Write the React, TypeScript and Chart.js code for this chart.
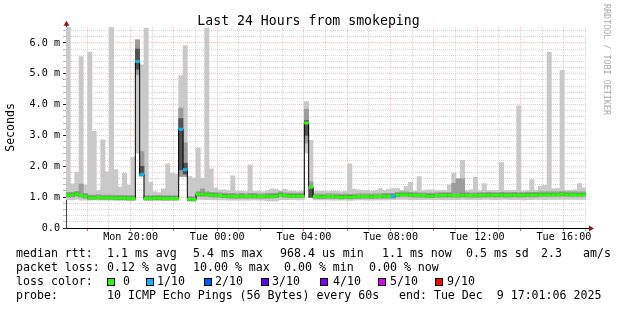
import React, { useEffect, useRef } from 'react';
import { Chart, registerables } from 'chart.js';

Chart.register(...registerables);

// ---- time axis (hours since Mon 00:00) ----
const startHour = 17 + 1 / 60 + 6 / 3600; // Mon 17:01:06
const stepHours = 0.2; // 12 minute buckets
const xGridHours = [18, 19, 20, 21, 22, 23, 24, 25, 26, 27, 28, 29, 30, 31, 32, 33, 34, 35, 36, 37, 38, 39, 40, 41];
const xLabelHours = [20, 24, 28, 32, 36, 40];
const xLabelTexts = ['Mon 20:00', 'Tue 00:00', 'Tue 04:00', 'Tue 08:00', 'Tue 12:00', 'Tue 16:00'];
const yGridValues = [0, 0.2, 0.4, 0.6, 0.8, 1, 1.2, 1.4, 1.6, 1.8, 2, 2.2, 2.4, 2.6, 2.8, 3, 3.2, 3.4, 3.6, 3.8, 4, 4.2, 4.4, 4.6, 4.8, 5, 5.2, 5.4, 5.6, 5.8, 6, 6.2, 6.4];

// ---- smoke (ms) ----
const smokeMax = [
  6.51, 1.43, 1.81, 5.56, 1.40, 5.69, 3.13, 1.22, 2.86, 1.82, 6.50, 1.89, 1.33, 1.77, 1.39, 2.30, 6.10, 5.29, 6.48, 1.48,
  1.18, 1.15, 1.27, 2.08, 1.77, 1.75, 4.94, 5.91, 1.67, 1.62, 2.59, 1.62, 6.48, 1.92, 1.30, 1.24, 1.24, 1.22, 1.69, 1.20,
  1.20, 1.18, 2.05, 1.18, 1.20, 1.17, 1.22, 1.26, 1.26, 1.20, 1.25, 1.20, 1.20, 1.18, 1.20, 4.10, 2.84, 1.20, 1.19, 1.20,
  1.18, 1.20, 1.19, 1.17, 1.20, 2.08, 1.26, 1.24, 1.22, 1.22, 1.20, 1.22, 1.28, 1.22, 1.26, 1.28, 1.28, 1.22, 1.35, 1.48,
  1.20, 1.67, 1.22, 1.24, 1.24, 1.22, 1.22, 1.22, 1.40, 1.77, 1.59, 2.19, 1.22, 1.24, 1.64, 1.22, 1.44, 1.22, 1.22, 1.22,
  2.12, 1.22, 1.22, 1.22, 3.96, 1.20, 1.22, 1.57, 1.22, 1.35, 1.38, 5.69, 1.27, 1.28, 5.11, 1.22, 1.22, 1.24, 1.44, 1.30,
];
const smokeMin = [
  0.92, 0.91, 0.93, 0.90, 0.90, 0.90, 0.91, 0.90, 0.90, 0.90, 0.90, 0.90, 0.90, 0.90, 0.89, 0.89, 2.43, 1.68, 0.89, 0.90,
  0.90, 0.90, 0.89, 0.89, 0.90, 0.90, 1.67, 1.67, 0.87, 0.87, 0.93, 0.93, 0.92, 0.92, 0.91, 0.91, 0.91, 0.90, 0.90, 0.90,
  0.90, 0.90, 0.90, 0.91, 0.90, 0.90, 0.88, 0.88, 0.88, 0.92, 0.92, 0.92, 0.92, 0.91, 0.91, 2.43, 0.98, 0.91, 0.91, 0.91,
  0.91, 0.90, 0.90, 0.90, 0.90, 0.89, 0.90, 0.91, 0.91, 0.90, 0.90, 0.91, 0.91, 0.91, 0.91, 0.92, 0.93, 0.93, 0.93, 0.92,
  0.92, 0.92, 0.92, 0.92, 0.92, 0.92, 0.92, 0.91, 0.92, 0.92, 0.92, 0.93, 0.92, 0.92, 0.92, 0.92, 0.93, 0.93, 0.92, 0.92,
  0.93, 0.93, 0.92, 0.92, 0.92, 0.91, 0.92, 0.92, 0.93, 0.93, 0.92, 0.93, 0.93, 0.93, 0.93, 0.93, 0.93, 0.93, 0.93, 0.93,
];
const midHigh = [
  1.16, 1.16, 1.19, 1.42, 1.12, 1.07, 1.07, 1.08, 1.07, 1.07, 1.07, 1.06, 1.06, 1.06, 1.05, 1.05, 6.10, 2.48, 1.05, 1.05,
  1.06, 1.06, 1.05, 1.05, 1.05, 1.05, 3.89, 2.76, 1.02, 1.02, 1.18, 1.27, 1.17, 1.16, 1.15, 1.14, 1.13, 1.12, 1.12, 1.11,
  1.12, 1.11, 1.12, 1.12, 1.11, 1.11, 1.12, 1.12, 1.13, 1.17, 1.14, 1.13, 1.13, 1.13, 1.13, 3.85, 1.50, 1.11, 1.10, 1.10,
  1.11, 1.11, 1.10, 1.09, 1.10, 1.09, 1.10, 1.11, 1.11, 1.11, 1.10, 1.11, 1.11, 1.12, 1.12, 1.12, 1.16, 1.17, 1.17, 1.16,
  1.15, 1.14, 1.14, 1.13, 1.13, 1.14, 1.15, 1.15, 1.15, 1.45, 1.59, 1.59, 1.15, 1.14, 1.14, 1.15, 1.15, 1.16, 1.15, 1.15,
  1.16, 1.15, 1.15, 1.16, 1.15, 1.15, 1.16, 1.16, 1.16, 1.17, 1.17, 1.17, 1.17, 1.17, 1.18, 1.17, 1.17, 1.17, 1.17, 1.17,
];
const midLow = [
  1.01, 1.01, 1.04, 0.99, 0.97, 0.92, 0.92, 0.93, 0.92, 0.92, 0.92, 0.91, 0.91, 0.91, 0.90, 0.90, 4.97, 1.68, 0.90, 0.90,
  0.91, 0.91, 0.90, 0.90, 0.90, 0.90, 1.67, 1.67, 0.88, 0.88, 1.03, 1.03, 1.02, 1.01, 1.00, 0.99, 0.98, 0.97, 0.97, 0.96,
  0.97, 0.96, 0.97, 0.97, 0.96, 0.96, 0.97, 0.97, 0.98, 1.02, 0.99, 0.98, 0.98, 0.98, 0.98, 2.75, 0.98, 0.96, 0.95, 0.95,
  0.96, 0.96, 0.95, 0.94, 0.95, 0.94, 0.95, 0.96, 0.96, 0.96, 0.95, 0.96, 0.96, 0.97, 0.97, 0.97, 1.01, 1.02, 1.02, 1.01,
  1.00, 0.99, 0.99, 0.98, 0.98, 0.99, 1.00, 1.00, 1.00, 0.99, 0.99, 1.00, 1.00, 0.99, 0.99, 1.00, 1.00, 1.01, 1.00, 1.00,
  1.01, 1.00, 1.00, 1.01, 1.00, 1.00, 1.01, 1.01, 1.01, 1.02, 1.02, 1.02, 1.02, 1.02, 1.03, 1.02, 1.02, 1.02, 1.02, 1.02,
];
const coreHigh = [
  1.11, 1.11, 1.14, 1.09, 1.07, 1.02, 1.02, 1.03, 1.02, 1.02, 1.02, 1.01, 1.01, 1.01, 1.00, 1.00, 5.80, 2.00, 1.00, 1.00,
  1.01, 1.01, 1.00, 1.00, 1.00, 1.00, 3.55, 2.10, 0.97, 0.97, 1.13, 1.13, 1.12, 1.11, 1.10, 1.09, 1.08, 1.07, 1.07, 1.06,
  1.07, 1.06, 1.07, 1.07, 1.06, 1.06, 1.07, 1.07, 1.08, 1.12, 1.09, 1.08, 1.08, 1.08, 1.08, 3.48, 1.30, 1.06, 1.05, 1.05,
  1.06, 1.06, 1.05, 1.04, 1.05, 1.04, 1.05, 1.06, 1.06, 1.06, 1.05, 1.06, 1.06, 1.07, 1.07, 1.07, 1.11, 1.12, 1.12, 1.11,
  1.10, 1.09, 1.09, 1.08, 1.08, 1.09, 1.10, 1.10, 1.10, 1.09, 1.09, 1.10, 1.10, 1.09, 1.09, 1.10, 1.10, 1.11, 1.10, 1.10,
  1.11, 1.10, 1.10, 1.11, 1.10, 1.10, 1.11, 1.11, 1.11, 1.12, 1.12, 1.12, 1.12, 1.12, 1.13, 1.12, 1.12, 1.12, 1.12, 1.12,
];
const coreLow = [
  1.04, 1.04, 1.07, 1.02, 1.00, 0.95, 0.95, 0.96, 0.95, 0.95, 0.95, 0.94, 0.94, 0.94, 0.93, 0.93, 5.15, 1.70, 0.93, 0.93,
  0.94, 0.94, 0.93, 0.93, 0.93, 0.93, 1.89, 1.75, 0.90, 0.90, 1.06, 1.06, 1.05, 1.04, 1.03, 1.02, 1.01, 1.00, 1.00, 0.99,
  1.00, 0.99, 1.00, 1.00, 0.99, 0.99, 1.00, 1.00, 1.01, 1.05, 1.02, 1.01, 1.01, 1.01, 1.01, 3.00, 1.00, 0.99, 0.98, 0.98,
  0.99, 0.99, 0.98, 0.97, 0.98, 0.97, 0.98, 0.99, 0.99, 0.99, 0.98, 0.99, 0.99, 1.00, 1.00, 1.00, 1.04, 1.05, 1.05, 1.04,
  1.03, 1.02, 1.02, 1.01, 1.01, 1.02, 1.03, 1.03, 1.03, 1.02, 1.02, 1.03, 1.03, 1.02, 1.02, 1.03, 1.03, 1.04, 1.03, 1.03,
  1.04, 1.03, 1.03, 1.04, 1.03, 1.03, 1.04, 1.04, 1.04, 1.05, 1.05, 1.05, 1.05, 1.05, 1.06, 1.05, 1.05, 1.05, 1.05, 1.05,
];
const medianRtt = [
  1.07, 1.07, 1.10, 1.05, 1.03, 0.98, 0.98, 0.99, 0.98, 0.98, 0.98, 0.97, 0.97, 0.97, 0.96, 0.96, 5.40, 1.73, 0.96, 0.96,
  0.97, 0.97, 0.96, 0.96, 0.96, 0.96, 3.20, 1.89, 0.93, 0.93, 1.09, 1.09, 1.08, 1.07, 1.06, 1.05, 1.04, 1.03, 1.03, 1.02,
  1.03, 1.02, 1.03, 1.03, 1.02, 1.02, 1.03, 1.03, 1.04, 1.08, 1.05, 1.04, 1.04, 1.04, 1.04, 3.40, 1.32, 1.02, 1.01, 1.01,
  1.02, 1.02, 1.01, 1.00, 1.01, 1.00, 1.01, 1.02, 1.02, 1.02, 1.01, 1.02, 1.02, 1.03, 1.03, 1.03, 1.07, 1.08, 1.08, 1.07,
  1.06, 1.05, 1.05, 1.04, 1.04, 1.05, 1.06, 1.06, 1.06, 1.05, 1.05, 1.06, 1.06, 1.05, 1.05, 1.06, 1.06, 1.07, 1.06, 1.06,
  1.07, 1.06, 1.06, 1.07, 1.06, 1.06, 1.07, 1.07, 1.07, 1.08, 1.08, 1.08, 1.08, 1.08, 1.09, 1.08, 1.08, 1.08, 1.08, 1.08,
];
const lossTenths = [
  0, 0, 0, 0, 0, 0, 0, 0, 0, 0, 0, 0, 0, 0, 0, 0, 1, 1, 0, 0,
  0, 0, 0, 0, 0, 0, 1, 1, 0, 0, 0, 0, 0, 0, 0, 0, 0, 0, 0, 0,
  0, 0, 0, 0, 0, 0, 0, 0, 0, 0, 0, 0, 0, 0, 0, 0, 0, 0, 0, 0,
  0, 0, 0, 0, 0, 0, 0, 0, 0, 0, 0, 0, 0, 0, 0, 1, 0, 0, 0, 0,
  0, 0, 0, 0, 0, 0, 0, 0, 0, 0, 0, 0, 0, 0, 0, 0, 0, 0, 0, 0,
  0, 0, 0, 0, 0, 0, 0, 0, 0, 0, 0, 0, 0, 0, 0, 0, 0, 0, 0, 0,
];

// ---- legend texts ----
const titleText = 'Last 24 Hours from smokeping';
const unitText = 'Seconds';
const watermarkText = 'RRDTOOL / TOBI OETIKER';
const rttLabel = 'median rtt:';
const rttStats = ['1.1 ms avg', '5.4 ms max', '968.4 us min', '1.1 ms now', '0.5 ms sd', '2.3', 'am/s'];
const lossLabel = 'packet loss:';
const lossStats = ['0.12 % avg', '10.00 % max', '0.00 % min', '0.00 % now'];
const colorLabel = 'loss color:';
const lossLegendTenths = [0, 1, 2, 3, 4, 5, 9];
const lossLegendLabels = ['0', '1/10', '2/10', '3/10', '4/10', '5/10', '9/10'];
const lossLegendColors = ['#26ff00', '#00b8ff', '#0059ff', '#5e00ff', '#7e00ff', '#dd00ff', '#ff0000'];
const probeLabel = 'probe:';
const probeText = '10 ICMP Echo Pings (56 Bytes) every 60s';
const endText = 'end: Tue Dec  9 17:01:06 2025';

const MONO = '"DejaVu Sans Mono", monospace';

function colorForLoss(t: number) {
  const i = lossLegendTenths.indexOf(t);
  return lossLegendColors[i < 0 ? 0 : i];
}

const decorPlugin = {
  id: 'rrdDecor',
  afterDraw(chart: any) {
    const { ctx, chartArea: a } = chart;
    ctx.save();
    const lx = Math.round(a.left) + 0.5;
    const by = Math.round(a.bottom) + 0.5;
    ctx.lineWidth = 1;
    ctx.strokeStyle = '#000';
    ctx.beginPath();
    ctx.moveTo(a.right, by);
    ctx.lineTo(a.right + 4, by);
    ctx.stroke();
    ctx.strokeStyle = '#444';
    ctx.beginPath();
    ctx.moveTo(lx, a.top);
    ctx.lineTo(lx, a.top - 2);
    ctx.stroke();
    ctx.fillStyle = '#8b1a1a';
    ctx.beginPath();
    ctx.moveTo(lx, a.top - 6);
    ctx.lineTo(lx - 3, a.top - 1);
    ctx.lineTo(lx + 3, a.top - 1);
    ctx.closePath();
    ctx.fill();
    ctx.beginPath();
    ctx.moveTo(a.right + 8, by);
    ctx.lineTo(a.right + 3, by - 3);
    ctx.lineTo(a.right + 3, by + 3);
    ctx.closePath();
    ctx.fill();

    // watermark
    ctx.save();
    ctx.translate(606, 4);
    ctx.rotate(Math.PI / 2);
    ctx.font = `8.4px ${MONO}`;
    ctx.fillStyle = '#a8a8a8';
    ctx.textAlign = 'left';
    ctx.textBaseline = 'middle';
    ctx.fillText(watermarkText, 0, 0);
    ctx.restore();

    // legend
    ctx.font = `11.6px ${MONO}`;
    ctx.fillStyle = '#000';
    ctx.textAlign = 'left';
    ctx.textBaseline = 'middle';
    const rows = [254, 268, 282, 296];
    ctx.fillText(rttLabel, 16, rows[0]);
    const rttX = [107, 193, 280, 382, 466, 541, 583];
    rttStats.forEach((s, i) => ctx.fillText(s, rttX[i], rows[0]));
    ctx.fillText(lossLabel, 16, rows[1]);
    const lossX = [107, 193, 284, 369];
    lossStats.forEach((s, i) => ctx.fillText(s, lossX[i], rows[1]));
    ctx.fillText(colorLabel, 16, rows[2]);
    const boxX = [107, 146, 204, 261, 320, 378, 435];
    const labX = [123, 157, 215, 272, 333, 390, 447];
    lossLegendLabels.forEach((s, i) => {
      const top = rows[2] - 4;
      ctx.fillStyle = lossLegendColors[i];
      ctx.fillRect(boxX[i], top, 8, 8);
      ctx.strokeStyle = '#000';
      ctx.strokeRect(boxX[i] + 0.5, top + 0.5, 7, 7);
      ctx.fillStyle = '#000';
      ctx.fillText(s, labX[i], rows[2]);
    });
    ctx.fillText(probeLabel, 16, rows[3]);
    ctx.fillText(probeText, 107, rows[3]);
    ctx.fillText(endText, 399, rows[3]);
    ctx.restore();
  },
};

export default function App() {
  const ref = useRef<HTMLCanvasElement>(null);
  useEffect(() => {
    const xs = medianRtt.map((_, i) => startHour + stepHours * (i + 0.5));
    const band = (low: number[], high: number[]) => low.map((l, i) => ({ x: xs[i], y: [l, high[i]] }));
    const medPts = medianRtt.map((m, i) => ({ x: xs[i], y: m }));
    const barCommon = { type: 'bar' as const, grouped: false, barPercentage: 1, categoryPercentage: 1, borderWidth: 0 };
    const red = 'rgba(240,110,110,0.42)';
    const grey = 'rgba(160,160,160,0.42)';
    const chart = new Chart(ref.current as HTMLCanvasElement, {
      type: 'bar',
      data: {
        datasets: [
          {
            type: 'line',
            label: 'median (loss color)',
            data: medPts,
            showLine: false,
            pointStyle: 'line',
            pointRadius: 2.3,
            pointBorderWidth: 3,
            pointBorderColor: lossTenths.map(colorForLoss),
            order: 0,
          } as any,
          {
            type: 'line',
            label: 'median',
            data: medPts,
            stepped: 'middle',
            borderColor: '#000',
            borderWidth: 1,
            pointRadius: 0,
            fill: false,
            order: 1,
          } as any,
          { ...barCommon, label: 'core', data: band(coreLow, coreHigh), backgroundColor: '#525252', order: 2 } as any,
          { ...barCommon, label: 'mid', data: band(midLow, midHigh), backgroundColor: '#9c9c9c', order: 3 } as any,
          { ...barCommon, label: 'smoke', data: band(smokeMin, smokeMax), backgroundColor: '#c9c9c9', order: 4 } as any,
        ],
      },
      options: {
        animation: false,
        responsive: false,
        devicePixelRatio: 1,
        layout: { padding: 0 },
        font: { family: MONO },
        plugins: {
          legend: { display: false },
          tooltip: { enabled: false },
          title: {
            display: true,
            text: titleText,
            color: '#000',
            font: { family: MONO, size: 13.2, weight: 'normal' },
            padding: { top: 14, bottom: -3 },
          },
        },
        scales: {
          x: {
            type: 'linear',
            min: startHour,
            max: startHour + 24,
            offset: false,
            afterBuildTicks: (s: any) => {
              s.ticks = xGridHours.map((v) => ({ value: v }));
            },
            afterFit: (s: any) => {
              s.height = 82;
            },
            grid: {
              offset: false,
              color: (c: any) => (c.tick && Math.round(c.tick.value) % 2 === 0 ? red : grey),
              tickColor: (c: any) => (c.tick && Math.round(c.tick.value) % 2 === 0 ? 'rgba(120,40,40,0.6)' : 'rgba(120,120,120,0.5)'),
              tickLength: 3,
              lineWidth: 1,
            },
            border: { color: '#000', width: 1, dash: [1, 1] },
            ticks: {
              autoSkip: false,
              maxRotation: 0,
              minRotation: 0,
              padding: 0,
              color: '#000',
              font: { family: MONO, size: 10.15 },
              callback: (v: any) => {
                const i = xLabelHours.indexOf(Math.round(Number(v)));
                return i >= 0 ? xLabelTexts[i] : '';
              },
            },
          },
          y: {
            type: 'linear',
            min: 0,
            max: 6.52,
            afterBuildTicks: (s: any) => {
              s.ticks = yGridValues.map((v) => ({ value: v }));
            },
            afterFit: (s: any) => {
              s.width = 66;
            },
            grid: {
              color: (c: any) => (c.tick && Math.abs(c.tick.value - Math.round(c.tick.value)) < 1e-6 ? red : grey),
              tickColor: (c: any) => (c.tick && Math.abs(c.tick.value - Math.round(c.tick.value)) < 1e-6 ? '#222' : 'rgba(120,120,120,0.5)'),
              tickLength: 3,
              lineWidth: 1,
            },
            border: { color: '#444', width: 1, dash: [1, 1] },
            ticks: {
              autoSkip: false,
              padding: 3,
              color: '#000',
              font: { family: MONO, size: 10.15 },
              callback: (v: any) => {
                const n = Number(v);
                if (Math.abs(n - Math.round(n)) > 1e-6) return '';
                return n === 0 ? '0.0' : `${n.toFixed(1)} m`;
              },
            },
            title: {
              display: true,
              text: unitText,
              color: '#000',
              font: { family: MONO, size: 11.6 },
              padding: { top: 4, bottom: 0 },
            },
          },
          yR: {
            type: 'linear',
            position: 'right',
            display: true,
            grid: { display: false, drawTicks: false },
            border: { display: false },
            ticks: { display: false },
            afterFit: (s: any) => {
              s.width = 31;
            },
          },
        },
      } as any,
      plugins: [decorPlugin],
    });
    return () => chart.destroy();
  }, []);
  return (
    <div style={{ position: 'absolute', left: 0, top: 0, width: 617, height: 310, background: '#fff' }}>
      <canvas ref={ref} width={617} height={310} style={{ display: 'block' }} />
    </div>
  );
}
